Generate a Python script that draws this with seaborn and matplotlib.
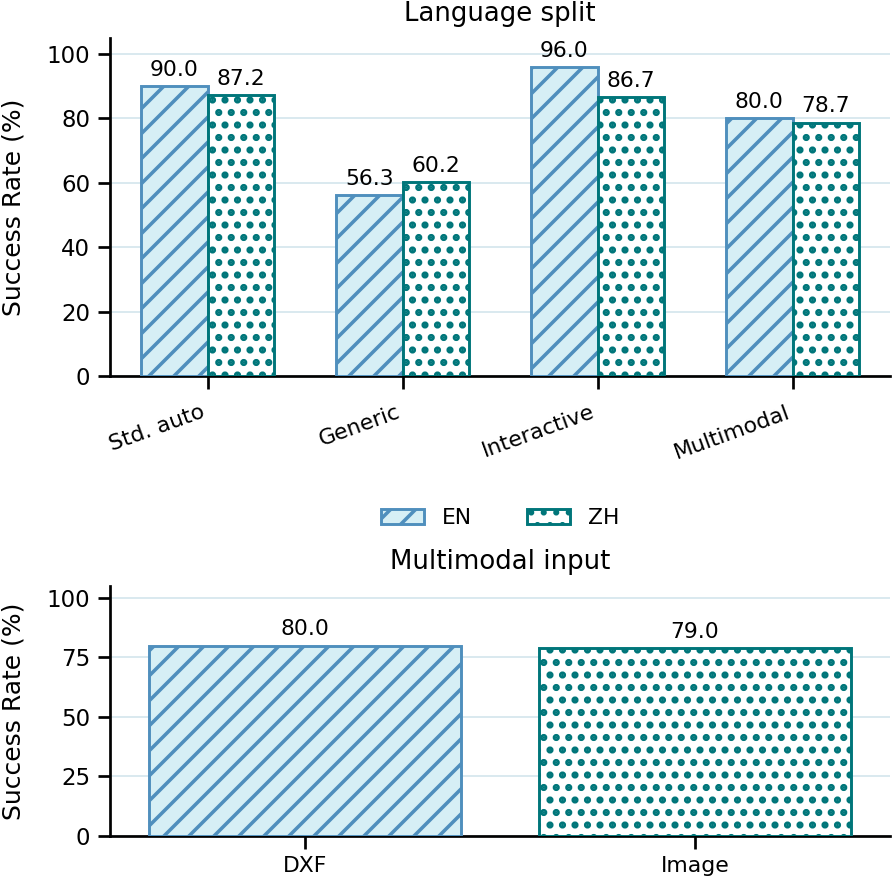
import pandas as pd
import matplotlib
matplotlib.use("Agg")
import matplotlib.pyplot as plt
import seaborn as sns

# Chart data
categories = ["Std. auto", "Generic", "Interactive", "Multimodal"]
en_rate = [90.0, 56.3, 96.0, 80.0]
zh_rate = [87.2, 60.2, 86.7, 78.7]
input_types = ["DXF", "Image"]
input_rate = [80.0, 79.0]

EN_EDGE = "#4f8fbd"
EN_FILL = "#d6eff5"
ZH_EDGE = "#00767a"
ZH_FILL = "#ffffff"

sns.set_theme(style="ticks")
plt.rcParams.update({
    "font.family": ["DejaVu Sans"],
    "font.size": 10.5,
    "text.color": "black",
    "axes.labelcolor": "black",
    "axes.edgecolor": "black",
    "xtick.color": "black",
    "ytick.color": "black",
    "axes.linewidth": 1.3,
    "xtick.major.width": 1.3,
    "ytick.major.width": 1.3,
    "xtick.major.size": 6,
    "ytick.major.size": 6,
    "xtick.labelsize": 10.5,
    "ytick.labelsize": 11,
    "axes.labelsize": 12,
    "axes.titlesize": 12.5,
    "hatch.linewidth": 1.7,
})

df = pd.DataFrame({
    "Category": categories * 2,
    "Rate": en_rate + zh_rate,
    "Language": ["EN"] * len(categories) + ["ZH"] * len(categories),
})
df_mm = pd.DataFrame({"Input": input_types, "Rate": input_rate})

W, H = 896, 893
fig = plt.figure(figsize=(W / 150, H / 150), dpi=150)
ax1 = fig.add_axes([110 / W, 1 - 376 / H, 780 / W, 338 / H])
ax2 = fig.add_axes([110 / W, 1 - 836 / H, 780 / W, 250 / H])

# fill, edge, hatch, hatch linewidth
styles = [(EN_FILL, EN_EDGE, "//", 1.7), (ZH_FILL, ZH_EDGE, "..", 2.2)]


def style_bars(ax):
    for cont, (fc, ec, hatch, hlw) in zip(ax.containers, styles):
        for bar in cont:
            bar.set_facecolor(fc)
            bar.set_edgecolor(ec)
            bar.set_hatch(hatch)
            bar.set_linewidth(1.4)
            if hasattr(bar, "set_hatch_linewidth"):
                bar.set_hatch_linewidth(hlw)
            else:
                bar._hatch_linewidth = hlw
        ax.bar_label(cont, fmt="%.1f", padding=3, fontsize=10.5)


# --- top: language split
sns.barplot(data=df, x="Category", y="Rate", hue="Language", width=0.68,
            palette=[EN_FILL, ZH_FILL], legend=False, ax=ax1, zorder=3)
style_bars(ax1)

ax1.set_ylim(0, 105)
ax1.set_yticks([0, 20, 40, 60, 80, 100])
ax1.set_title("Language split", pad=8)
ax1.set_xlabel("")
ax1.set_ylabel("Success Rate (%)", labelpad=10)
ax1.tick_params(axis="x", pad=6.5)
plt.setp(ax1.get_xticklabels(), rotation=20, ha="right")
ax1.yaxis.grid(True, color="#d8e8ee", linewidth=0.9, zorder=0)
ax1.set_axisbelow(True)
sns.despine(ax=ax1)

handles = [ax1.containers[0][0], ax1.containers[1][0]]
ax1.legend(handles, ["EN", "ZH"], loc="center", bbox_to_anchor=(0.5, -0.42),
           ncol=2, frameon=False, fontsize=10.5, columnspacing=2.5)

# --- bottom: multimodal input
sns.barplot(data=df_mm, x="Input", y="Rate", hue="Input", width=0.8,
            palette=[EN_FILL, ZH_FILL], legend=False, ax=ax2, zorder=3)
style_bars(ax2)

ax2.set_ylim(0, 105)
ax2.set_yticks([0, 25, 50, 75, 100])
ax2.set_title("Multimodal input", pad=8)
ax2.set_xlabel("")
ax2.set_ylabel("Success Rate (%)", labelpad=10)
ax2.yaxis.grid(True, color="#d8e8ee", linewidth=0.9, zorder=0)
ax2.set_axisbelow(True)
sns.despine(ax=ax2)

fig.savefig("out.png", dpi=150)
